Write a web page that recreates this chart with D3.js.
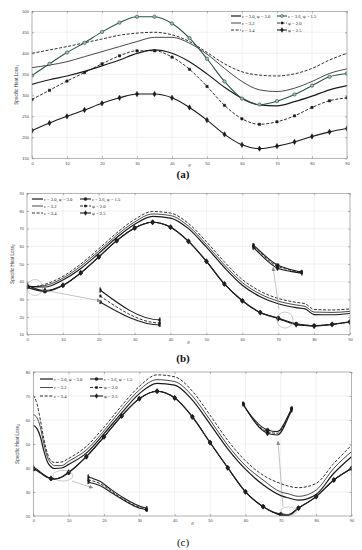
<!DOCTYPE html>
<html>
<head>
<meta charset="utf-8">
<script src="https://cdn.jsdelivr.net/npm/d3@7"></script>
<style>
  body { margin: 0; background: #fff; }
</style>
</head>
<body>
<svg id="chart" width="362" height="550"></svg>
<script>
// ---- data ----
const xTicks = [0, 10, 20, 30, 40, 50, 60, 70, 80, 90];
const yTicksA = [150, 200, 250, 300, 350, 400, 450, 500];
const yTicksB = [10, 20, 30, 40, 50, 60, 70, 80, 90];
const yTicksC = [20, 30, 40, 50, 60, 70, 80];

const legendKeys = ["e30", "e36", "e32", "p20", "e34", "p25"];
const legendLabels = ["ε = 3.0, ψ = 3.0", "ε = 3.6, ψ = 1.5", "ε = 3.2", "ψ = 2.0", "ε = 3.4", "ψ = 2.5"];

// panel (a)
const thetaA = [0, 5, 10, 15, 20, 25, 30, 35, 40, 45, 50, 55, 60, 65, 70, 75, 80, 85, 90];
const a_e34 = [400, 408, 416, 425, 434, 443, 448, 450, 444, 428, 402, 375, 356, 348, 346, 351, 364, 384, 400];
const a_e32 = [366, 372, 380, 392, 404, 416, 428, 438, 438, 424, 398, 364, 333, 313, 309, 317, 333, 352, 363];
const a_e30 = [326, 337, 346, 357, 370, 384, 400, 408, 400, 380, 351, 319, 293, 277, 275, 285, 298, 313, 323];
const a_e36 = [347, 375, 402, 425, 451, 473, 487, 487, 471, 436, 387, 333, 292, 278, 286, 302, 323, 344, 352];
const a_p20 = [290, 312, 334, 354, 375, 394, 406, 406, 391, 362, 321, 276, 244, 231, 237, 251, 271, 287, 294];
const a_p25 = [216, 234, 250, 265, 281, 294, 303, 303, 294, 271, 241, 207, 182, 173, 179, 189, 202, 213, 221];

// panel (b)
const thetaB = [0, 5, 10, 15, 20, 25, 30, 35, 40, 45, 50, 55, 60, 65, 70, 75, 77.5, 80, 85, 90];
const b_e34 = [36.5, 38.5, 43.0, 50.0, 58.6, 67.6, 75.2, 79.7, 78.8, 72.9, 62.6, 51.2, 41.2, 34.6, 30.5, 28.3, 27.5, 24.3, 24.0, 24.6];
const b_e32 = [37.0, 37.8, 42.0, 48.8, 57.3, 66.3, 73.8, 78.3, 77.4, 71.4, 61.0, 49.5, 39.5, 33.0, 29.0, 26.8, 26.0, 22.8, 22.6, 23.2];
const b_e30 = [37.5, 37.0, 41.0, 47.5, 56.0, 65.0, 72.5, 77.0, 76.0, 70.0, 59.5, 48.0, 38.0, 31.5, 27.5, 25.3, 24.6, 21.4, 21.3, 22.0];
const b_e36 = [36.8, 34.5, 37.8, 45.0, 54.0, 63.2, 70.4, 73.6, 70.8, 62.8, 51.5, 38.7, 29.2, 22.6, 19.5, 16.2, 15.5, 15.1, 15.9, 17.3];
const b_p20 = [37.4, 34.7, 37.9, 45.0, 54.0, 63.2, 70.4, 73.6, 70.8, 62.8, 51.5, 38.7, 29.2, 22.5, 19.3, 16.0, 15.4, 15.0, 15.8, 17.2];
const b_p25 = [38.0, 35.0, 38.0, 45.0, 54.0, 63.2, 70.4, 73.6, 70.8, 62.8, 51.5, 38.7, 29.2, 22.5, 19.1, 15.7, 15.2, 14.9, 15.8, 17.2];

// panel (c)
const thetaC = [0, 1, 2, 3, 4, 5, 6, 8, 10, 15, 20, 25, 30, 35, 40, 45, 50, 55, 60, 65, 70, 72, 75, 80, 85, 90];
const c_e34 = [70.3, 67.0, 60.0, 52.0, 46.0, 43.0, 42.3, 42.5, 44.0, 49.0, 57.0, 66.0, 74.0, 78.8, 78.0, 72.0, 62.0, 51.5, 43.0, 37.0, 33.5, 32.5, 31.8, 33.6, 41.9, 49.5];
const c_e32 = [62.3, 61.0, 57.0, 50.0, 44.5, 42.0, 41.0, 41.0, 42.8, 47.5, 55.5, 64.5, 72.5, 76.8, 76.0, 70.0, 60.0, 49.5, 41.0, 35.0, 30.0, 29.3, 28.2, 30.8, 39.9, 46.8];
const c_e30 = [57.8, 56.5, 53.0, 47.0, 42.5, 40.5, 39.8, 40.0, 41.5, 46.2, 54.3, 63.0, 71.0, 75.3, 74.5, 68.3, 58.3, 48.0, 39.5, 33.0, 28.5, 27.6, 26.6, 29.0, 37.8, 44.7];
const c_e36 = [39.4, 38.9, 37.9, 36.9, 36.0, 35.5, 35.3, 36.1, 38.0, 44.7, 53.0, 61.7, 68.9, 72.0, 69.2, 61.3, 50.6, 40.1, 30.1, 23.9, 20.8, 20.6, 23.4, 28.1, 35.0, 39.8];
const c_p20 = [39.7, 39.2, 38.1, 37.0, 36.1, 35.6, 35.4, 36.2, 38.1, 44.7, 53.0, 61.7, 68.9, 72.0, 69.2, 61.3, 50.6, 40.1, 30.1, 23.9, 20.6, 20.4, 23.3, 28.1, 35.0, 39.8];
const c_p25 = [40.1, 39.5, 38.3, 37.2, 36.3, 35.7, 35.5, 36.3, 38.2, 44.7, 53.0, 61.7, 68.9, 72.0, 69.2, 61.3, 50.6, 40.1, 30.1, 23.9, 20.4, 20.2, 23.2, 28.1, 35.0, 39.8];

// ---- styles ----
const styles = {
  e34: { dash: "3,1.6", w: 0.9 },
  e32: { dash: null, w: 0.8 },
  e30: { dash: null, w: 1.2 },
  p20: { dash: "3,1.6", w: 0.9, marker: d3.symbolSquare, ms: 5 },
  p25: { dash: null, w: 1.1, marker: d3.symbolDiamond, ms: 8 },
  e36: { dash: null, w: 1.1, marker: d3.symbolCircle, ms: 9 }
};
const drawOrder = ["e34", "e32", "e30", "p20", "p25", "e36"];
const sans = "'Liberation Sans', Arial, sans-serif";
const serif = "'Liberation Serif', 'Times New Roman', serif";

const panels = [
  {
    label: "(a)", labelY: 178, bold: true, sub: "1", yLabelX: 18,
    x0: 32, x1: 347, y0: 11.3, y1: 158.3, yTicks: yTicksA, theta: thetaA,
    series: { e34: a_e34, e32: a_e32, e30: a_e30, e36: a_e36, p20: a_p20, p25: a_p25 },
    green: "#285646",
    legend: { cols: [231, 277], len: 10, rows: [16, 23, 30] },
    insets: [], notes: []
  },
  {
    label: "(b)", labelY: 362, bold: true, sub: "2", yLabelX: 14,
    x0: 27, x1: 350, y0: 193.3, y1: 334.7, yTicks: yTicksB, theta: thetaB,
    series: { e34: b_e34, e32: b_e32, e30: b_e30, e36: b_e36, p20: b_p20, p25: b_p25 },
    green: "#222",
    legend: { cols: [32, 80], len: 11, rows: [199, 206, 213] },
    insets: [
      { win: [0, 5], rect: [100, 290, 60, 35] },
      { win: [70, 80], rect: [253, 245, 49, 28] }
    ],
    notes: [
      { t: 2.2, v: 36.7, rx: 8, ry: 8, from: [43, 290], to: [101, 301] },
      { t: 71.9, v: 18.3, rx: 8, ry: 8, from: [279, 309], to: [273, 267] }
    ]
  },
  {
    label: "(c)", labelY: 546, bold: false, sub: "3", yLabelX: 19,
    x0: 33.3, x1: 351.5, y0: 372, y1: 516, yTicks: yTicksC, theta: thetaC,
    series: { e34: c_e34, e32: c_e32, e30: c_e30, e36: c_e36, p20: c_p20, p25: c_p25 },
    green: "#222",
    legend: { cols: [40, 90], len: 13, rows: [379, 387.5, 396] },
    insets: [
      { win: [0, 5], rect: [88, 477, 59, 33] },
      { win: [65, 75], rect: [243, 404, 49, 31] }
    ],
    notes: [
      { t: 8.4, v: 36.8, rx: 10, ry: 5.3, from: [72, 481], to: [93, 488] },
      { t: 72.3, v: 22.1, rx: 8, ry: 4, from: [283, 507], to: [278, 441] }
    ]
  }
];

const svg = d3.select("#chart");
svg.append("rect").attr("width", 362).attr("height", 550).attr("fill", "#fff");

const defs = svg.append("defs");
defs.append("marker")
  .attr("id", "arrow")
  .attr("viewBox", "0 0 6 6")
  .attr("refX", 6).attr("refY", 3)
  .attr("markerWidth", 4).attr("markerHeight", 4)
  .attr("markerUnits", "userSpaceOnUse")
  .attr("orient", "auto")
  .append("path").attr("d", "M0,0L6,3L0,6Z").attr("fill", "#888");

function colorOf(p, k) {
  return k === "e36" ? p.green : "#1a1a1a";
}

function markerFill(p, k) {
  return k === "e36" && p.label === "(a)" ? "#9fbcae" : colorOf(p, k);
}

function drawSeries(g, p, x, y, k, onlyWin) {
  const st = styles[k];
  const pts = p.theta.map((t, i) => [t, p.series[k][i]]);
  const line = d3.line().x(d => x(d[0])).y(d => y(d[1])).curve(d3.curveMonotoneX);
  g.append("path")
    .datum(pts)
    .attr("d", line)
    .attr("fill", "none")
    .attr("stroke", colorOf(p, k))
    .attr("stroke-width", st.w)
    .attr("stroke-dasharray", st.dash);
  if (st.marker) {
    let mp = pts.filter(d => d[0] % 5 === 0);
    if (onlyWin) mp = mp.filter(d => d[0] >= onlyWin[0] && d[0] <= onlyWin[1]);
    g.append("g")
      .selectAll("path")
      .data(mp)
      .join("path")
      .attr("transform", d => `translate(${x(d[0])},${y(d[1])})`)
      .attr("d", d3.symbol(st.marker, st.ms))
      .attr("fill", markerFill(p, k))
      .attr("stroke", colorOf(p, k))
      .attr("stroke-width", 0.6);
  }
}

panels.forEach((p, pi) => {
  const g = svg.append("g");
  const x = d3.scaleLinear().domain([0, 90]).range([p.x0, p.x1]);
  const y = d3.scaleLinear()
    .domain([p.yTicks[0], p.yTicks[p.yTicks.length - 1]])
    .range([p.y1, p.y0]);

  // grid
  g.append("g").selectAll("line").data(xTicks).join("line")
    .attr("x1", d => x(d)).attr("x2", d => x(d))
    .attr("y1", p.y0).attr("y2", p.y1)
    .attr("stroke", "#e2e2e2").attr("stroke-width", 0.5);
  g.append("g").selectAll("line").data(p.yTicks).join("line")
    .attr("y1", d => y(d)).attr("y2", d => y(d))
    .attr("x1", p.x0).attr("x2", p.x1)
    .attr("stroke", "#e2e2e2").attr("stroke-width", 0.5);

  // curves
  const clipId = "clip" + pi;
  defs.append("clipPath").attr("id", clipId)
    .append("rect").attr("x", p.x0).attr("y", p.y0)
    .attr("width", p.x1 - p.x0).attr("height", p.y1 - p.y0);
  const cg = g.append("g").attr("clip-path", `url(#${clipId})`);
  drawOrder.forEach(k => drawSeries(cg, p, x, y, k));

  // frame + axes
  g.append("rect")
    .attr("x", p.x0).attr("y", p.y0)
    .attr("width", p.x1 - p.x0).attr("height", p.y1 - p.y0)
    .attr("fill", "none").attr("stroke", "#8c8c8c").attr("stroke-width", 0.6);

  const ax = g.append("g");
  ax.append("g").attr("transform", `translate(0,${p.y1})`)
    .call(d3.axisBottom(x).tickValues(xTicks).tickSize(-2).tickPadding(3.5).tickSizeOuter(0));
  ax.append("g").attr("transform", `translate(${p.x0},0)`)
    .call(d3.axisLeft(y).tickValues(p.yTicks).tickSize(-2).tickPadding(3).tickSizeOuter(0));
  ax.append("g").attr("transform", `translate(0,${p.y0})`)
    .call(d3.axisTop(x).tickValues(xTicks).tickSize(-2).tickFormat("").tickSizeOuter(0));
  ax.append("g").attr("transform", `translate(${p.x1},0)`)
    .call(d3.axisRight(y).tickValues(p.yTicks).tickSize(-2).tickFormat("").tickSizeOuter(0));
  ax.selectAll(".domain").remove();
  ax.selectAll(".tick line").attr("stroke", "#777").attr("stroke-width", 0.5);
  ax.selectAll(".tick text")
    .attr("font-size", 4).attr("fill", "#444").attr("font-family", sans);

  // axis titles
  g.append("text")
    .attr("x", x(45)).attr("y", p.y1 + 9)
    .attr("text-anchor", "middle")
    .attr("font-family", serif).attr("font-style", "italic")
    .attr("font-size", 5).attr("fill", "#333")
    .text("θ");
  const yl = g.append("text")
    .attr("transform", `translate(${p.yLabelX},${(p.y0 + p.y1) / 2}) rotate(-90)`)
    .attr("text-anchor", "middle")
    .attr("font-family", sans).attr("font-size", 4.6).attr("fill", "#333");
  yl.append("tspan").text("Specific Heat Loss");
  yl.append("tspan").attr("font-size", 3.2).attr("dy", 1.2).text(p.sub);

  // panel label
  g.append("text")
    .attr("x", 183).attr("y", p.labelY)
    .attr("text-anchor", "middle")
    .attr("font-family", serif)
    .attr("font-weight", p.bold ? "bold" : "normal")
    .attr("font-size", 11).attr("fill", "#111")
    .text(p.label);

  // legend (no box)
  const lg = g.append("g");
  const L = p.legend;
  legendKeys.forEach((k, i) => {
    const st = styles[k];
    const lx = L.cols[i % 2];
    const ly = L.rows[Math.floor(i / 2)];
    lg.append("line")
      .attr("x1", lx).attr("x2", lx + L.len)
      .attr("y1", ly).attr("y2", ly)
      .attr("stroke", colorOf(p, k)).attr("stroke-width", st.w)
      .attr("stroke-dasharray", st.dash);
    if (st.marker) {
      lg.append("path")
        .attr("transform", `translate(${lx + L.len / 2},${ly})`)
        .attr("d", d3.symbol(st.marker, st.ms * 0.8))
        .attr("fill", markerFill(p, k))
        .attr("stroke", colorOf(p, k)).attr("stroke-width", 0.5);
    }
    lg.append("text")
      .attr("x", lx + L.len + 1).attr("y", ly + 1.6)
      .attr("font-family", serif).attr("font-size", 4.6).attr("fill", "#222")
      .text(legendLabels[i]);
  });

  // zoom-in insets
  p.insets.forEach((ins, ii) => {
    const [rx, ry, rw, rh] = ins.rect;
    const keys = ["e36", "p20", "p25"];
    const vals = [];
    keys.forEach(k => p.theta.forEach((t, i) => {
      if (t >= ins.win[0] && t <= ins.win[1]) vals.push(p.series[k][i]);
    }));
    const xs = d3.scaleLinear().domain(ins.win).range([rx, rx + rw]);
    const ys = d3.scaleLinear().domain(d3.extent(vals)).range([ry + rh, ry]);
    const id = `ins${pi}_${ii}`;
    defs.append("clipPath").attr("id", id)
      .append("rect").attr("x", rx - 0.5).attr("y", ry - 3)
      .attr("width", rw + 1).attr("height", rh + 6);
    const ig = g.append("g").attr("clip-path", `url(#${id})`);
    keys.forEach(k => drawSeries(ig, p, xs, ys, k, ins.win));
  });

  // circles and arrows
  p.notes.forEach(n => {
    g.append("ellipse")
      .attr("cx", x(n.t)).attr("cy", y(n.v))
      .attr("rx", n.rx).attr("ry", n.ry)
      .attr("fill", "none").attr("stroke", "#999").attr("stroke-width", 0.5);
    g.append("line")
      .attr("x1", n.from[0]).attr("y1", n.from[1])
      .attr("x2", n.to[0]).attr("y2", n.to[1])
      .attr("stroke", "#888").attr("stroke-width", 0.5)
      .attr("marker-end", "url(#arrow)");
  });
});
</script>
</body>
</html>
